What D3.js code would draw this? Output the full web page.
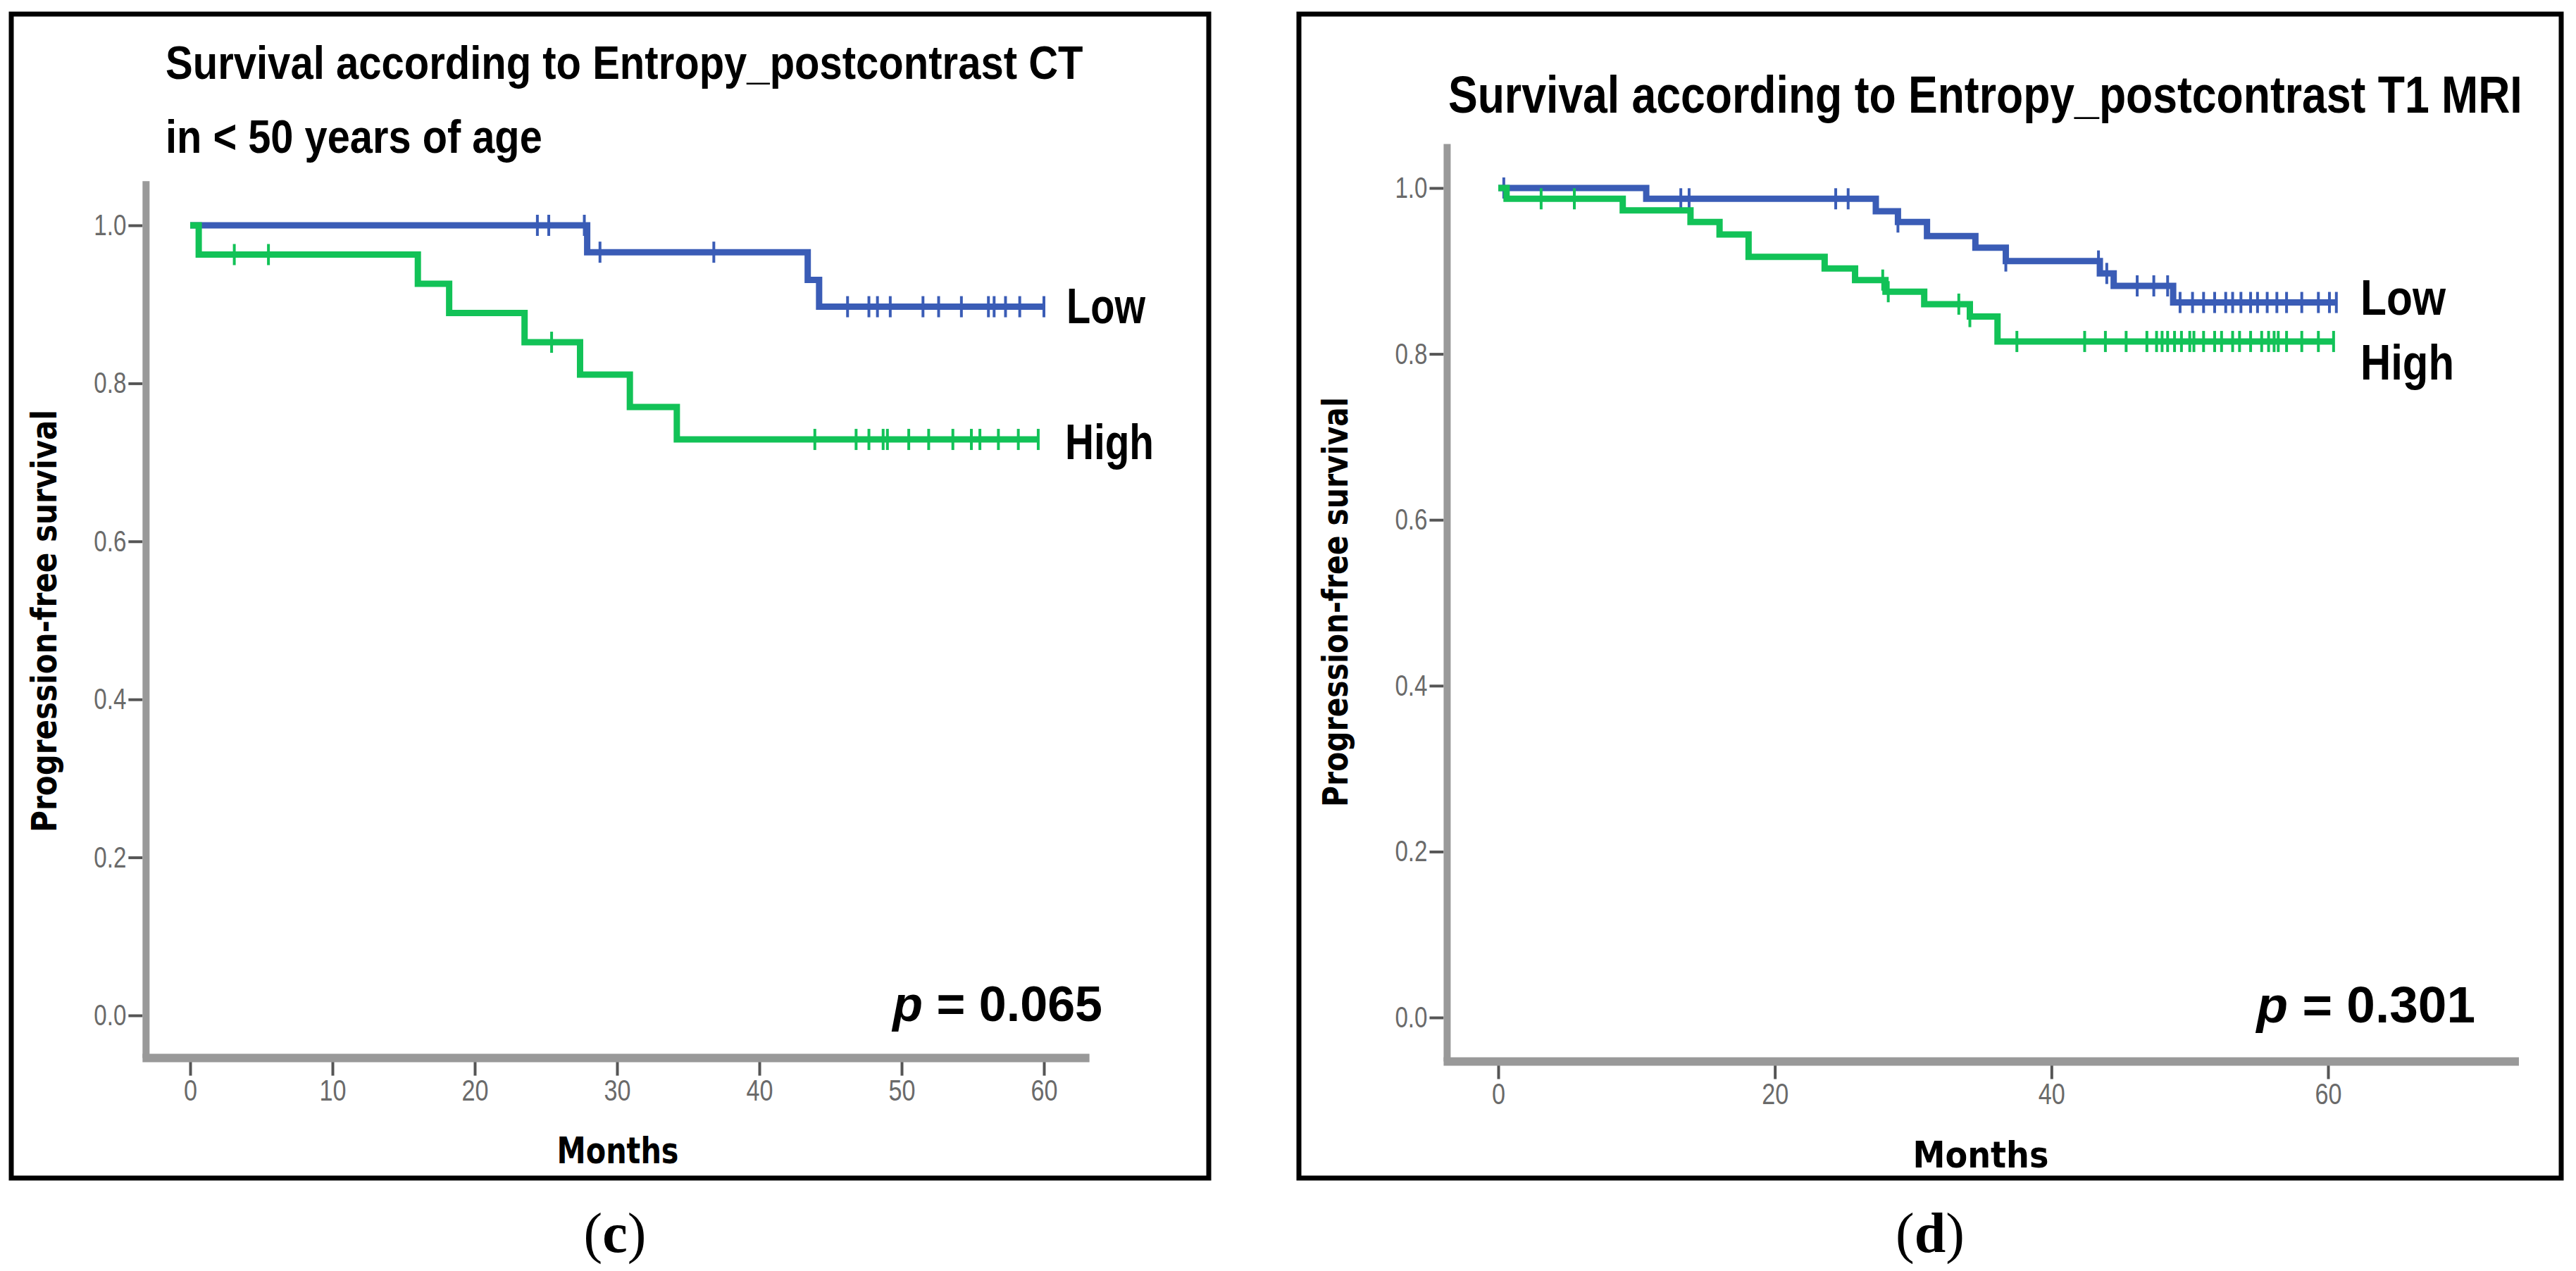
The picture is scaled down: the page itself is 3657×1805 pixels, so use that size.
<!DOCTYPE html>
<html>
<head>
<meta charset="utf-8">
<script src="https://cdn.jsdelivr.net/npm/d3@7"></script>
<style>
body { margin: 0; background: #fff; }
</style>
</head>
<body>
<div id="canvas"></div>
<script>
// Tick labels
var yTicks = [0, 0.2, 0.4, 0.6, 0.8, 1.0];
var cXTicks = [0, 10, 20, 30, 40, 50, 60];
var dXTicks = [0, 20, 40, 60];

// Panel (c): [months, survival] at each event, then censored times
var cLowSteps = [[0, 1], [27.9, 0.966], [43.4, 0.931], [44.2, 0.897]];
var cLowCensor = [24.4, 25.2, 27.7, 28.8, 36.8, 46.2, 47.7, 48.3, 49.2, 51.5, 52.6, 54.2, 56.1, 56.5, 57.3, 58.3, 60.0];
var cLowEnd = 60.0;
var cHighSteps = [[0, 1], [0.6, 0.963], [16.0, 0.926], [18.2, 0.889], [23.5, 0.852], [27.4, 0.811], [30.9, 0.770], [34.2, 0.729]];
var cHighCensor = [3.1, 5.5, 25.4, 43.9, 46.8, 47.7, 48.7, 49.0, 50.5, 51.9, 53.6, 54.9, 55.5, 56.8, 58.2, 59.6];
var cHighEnd = 59.6;

// Panel (d)
var dLowSteps = [[0, 1], [10.7, 0.987], [27.3, 0.972], [28.9, 0.959], [31.0, 0.942], [34.5, 0.928], [36.7, 0.912], [43.5, 0.897], [44.5, 0.882], [48.8, 0.862]];
var dLowCensor = [0.4, 13.2, 13.8, 24.4, 25.3, 28.9, 36.7, 43.4, 44.0, 46.2, 47.4, 48.4, 49.3, 50.2, 51.0, 51.8, 52.6, 53.1, 53.7, 54.4, 54.9, 55.6, 56.3, 57.0, 58.1, 59.3, 60.1, 60.6];
var dLowEnd = 60.6;
var dHighSteps = [[0, 1], [0.6, 0.987], [9.0, 0.973], [13.9, 0.959], [16.0, 0.944], [18.1, 0.917], [23.6, 0.903], [25.8, 0.889], [28.0, 0.875], [30.8, 0.860], [34.1, 0.845], [36.1, 0.815]];
var dHighCensor = [3.1, 5.5, 27.8, 28.2, 33.3, 34.1, 37.5, 42.4, 43.9, 45.4, 46.9, 47.6, 48.0, 48.4, 48.9, 49.4, 50.0, 50.3, 51.0, 51.8, 52.3, 53.1, 53.6, 54.4, 55.2, 55.7, 56.1, 56.4, 57.0, 58.1, 59.3, 60.4];
var dHighEnd = 60.4;

var blue = "#3a5cb6";
var green = "#12c257";
var sans = "'Liberation Sans', Arial, sans-serif";
var dejavu = "'DejaVu Sans', sans-serif";

var svg = d3.select("#canvas")
    .append("svg")
        .attr("width", 3657)
        .attr("height", 1805);

svg.append("rect").attr("width", 3657).attr("height", 1805).attr("fill", "#fff");

// Layout of the two panels
var panels = [
    {
        box: [16, 20, 1700, 1653],
        xDomain: [0, 60], xRange: [270, 1482], xExtent: [-3.3, 63.2], xTicks: cXTicks,
        yRange: [1442, 320], yExtent: [-0.054, 1.056],
        title: ["Survival according to Entropy_postcontrast CT", "in < 50 years of age"],
        titleX: 235, titleY: [112, 217], titleW: [1303, 535], titleSize: 66,
        ylab: [80, 882, 600], xlab: [877, 1652, 173],
        low: [1514, 459, 112], high: [1512, 652, 126], labSize: 70,
        p: "0.065", pPos: [1565, 1450], pSize: 70,
        tag: "c", tagX: 873,
        series: [
            {steps: cLowSteps, censor: cLowCensor, end: cLowEnd, color: blue},
            {steps: cHighSteps, censor: cHighCensor, end: cHighEnd, color: green}
        ]
    },
    {
        box: [1844, 20, 1792, 1653],
        xDomain: [0, 60], xRange: [2127, 3305], xExtent: [-3.9, 73.8], xTicks: dXTicks,
        yRange: [1445, 267], yExtent: [-0.053, 1.053],
        title: ["Survival according to Entropy_postcontrast T1 MRI"],
        titleX: 2056, titleY: [160], titleW: [1525], titleSize: 74,
        ylab: [1913, 855, 582], xlab: [2812, 1658, 193],
        low: [3351, 447, 121], high: [3351, 539, 133], labSize: 70,
        p: "0.301", pPos: [3514, 1452], pSize: 73,
        tag: "d", tagX: 2740,
        series: [
            {steps: dLowSteps, censor: dLowCensor, end: dLowEnd, color: blue},
            {steps: dHighSteps, censor: dHighCensor, end: dHighEnd, color: green}
        ]
    }
];

panels.forEach(drawPanel);

// Survival value at time t for a step list
function survivalAt(steps, t) {
    var s = steps[0][1];
    steps.forEach(function(d) {
        if (d[0] <= t) s = d[1];
    });
    return s;
}

// Bold text squeezed sideways to a given width (narrow font look)
function fitText(g, str, x, y, w, font, size, anchor, rot) {
    var t = g.append("text")
        .attr("font-family", font)
        .attr("font-weight", "bold")
        .attr("font-size", size)
        .attr("text-anchor", anchor)
        .text(str);
    var n = t.node().getComputedTextLength();
    t.attr("transform", "translate(" + x + "," + y + ")" + (rot ? " rotate(" + rot + ")" : "") + " scale(" + (w / n) + ",1)");
    return t;
}

function drawPanel(p) {
    var g = svg.append("g");
    var x = d3.scaleLinear().domain(p.xDomain).range(p.xRange);
    var y = d3.scaleLinear().domain([0, 1]).range(p.yRange);

    // Frame
    g.append("rect")
        .attr("x", p.box[0]).attr("y", p.box[1])
        .attr("width", p.box[2]).attr("height", p.box[3])
        .attr("fill", "none")
        .attr("stroke", "#000")
        .attr("stroke-width", 7);

    // Titles
    p.title.forEach(function(t, i) {
        fitText(g, t, p.titleX, p.titleY[i], p.titleW[i], sans, p.titleSize, "start");
    });

    var axisX = x(p.xExtent[0]) + 4;
    var axisY = y(p.yExtent[0]);

    // Y axis ticks
    var yAxis = g.append("g")
        .attr("transform", "translate(" + (axisX - 5) + ",0)")
        .call(d3.axisLeft(y).tickValues(yTicks).tickFormat(d3.format(".1f")).tickSize(20).tickPadding(3));
    yAxis.select(".domain").remove();
    yAxis.selectAll("line").attr("stroke", "#555").attr("stroke-width", 4);
    yAxis.selectAll("text")
        .attr("font-family", sans)
        .attr("font-size", 42)
        .attr("fill", "#6a6a6a")
        .attr("textLength", 46)
        .attr("lengthAdjust", "spacingAndGlyphs");

    // X axis ticks
    var xAxis = g.append("g")
        .attr("transform", "translate(0," + (axisY + 4) + ")")
        .call(d3.axisBottom(x).tickValues(p.xTicks).tickFormat(d3.format("d")).tickSize(21).tickPadding(6));
    xAxis.select(".domain").remove();
    xAxis.selectAll("line").attr("stroke", "#555").attr("stroke-width", 4);
    xAxis.selectAll("text")
        .attr("font-family", sans)
        .attr("font-size", 42)
        .attr("fill", "#6a6a6a")
        .attr("textLength", d => d < 10 ? 19 : 38)
        .attr("lengthAdjust", "spacingAndGlyphs");

    // Axis bars
    g.append("line")
        .attr("x1", axisX).attr("x2", axisX)
        .attr("y1", y(p.yExtent[1])).attr("y2", axisY)
        .attr("stroke", "#999").attr("stroke-width", 10);
    g.append("line")
        .attr("x1", axisX - 5).attr("x2", x(p.xExtent[1]))
        .attr("y1", axisY).attr("y2", axisY)
        .attr("stroke", "#999").attr("stroke-width", 12);

    // Axis titles
    fitText(g, "Progression-free survival", p.ylab[0], p.ylab[1], p.ylab[2], dejavu, 50, "middle", -90);
    fitText(g, "Months", p.xlab[0], p.xlab[1], p.xlab[2], dejavu, 52, "middle");

    // Curves
    var line = d3.line()
        .x(d => x(d[0]))
        .y(d => y(d[1]))
        .curve(d3.curveStepAfter);

    p.series.forEach(function(s) {
        var pts = s.steps.concat([[s.end, s.steps[s.steps.length - 1][1]]]);
        g.append("path")
            .attr("d", line(pts))
            .attr("fill", "none")
            .attr("stroke", s.color)
            .attr("stroke-width", 9);
        g.append("g")
            .selectAll("line")
            .data(s.censor)
            .join("line")
                .attr("x1", d => x(d)).attr("x2", d => x(d))
                .attr("y1", d => y(survivalAt(s.steps, d)) - 15)
                .attr("y2", d => y(survivalAt(s.steps, d)) + 15)
                .attr("stroke", s.color)
                .attr("stroke-width", 4);
    });

    // Group labels
    fitText(g, "Low", p.low[0], p.low[1], p.low[2], sans, p.labSize, "start");
    fitText(g, "High", p.high[0], p.high[1], p.high[2], sans, p.labSize, "start");

    // p value
    var pt = g.append("text")
        .attr("x", p.pPos[0]).attr("y", p.pPos[1])
        .attr("text-anchor", "end")
        .attr("font-family", sans)
        .attr("font-weight", "bold")
        .attr("font-size", p.pSize);
    pt.append("tspan").attr("font-style", "italic").text("p");
    pt.append("tspan").text(" = " + p.p);

    // Panel tag
    var tg = svg.append("text")
        .attr("x", p.tagX).attr("y", 1778)
        .attr("text-anchor", "middle")
        .attr("font-family", "'Liberation Serif', 'DejaVu Serif', serif")
        .attr("font-size", 80);
    tg.append("tspan").text("(");
    tg.append("tspan").attr("font-weight", "bold").text(p.tag);
    tg.append("tspan").text(")");
}
</script>
</body>
</html>
